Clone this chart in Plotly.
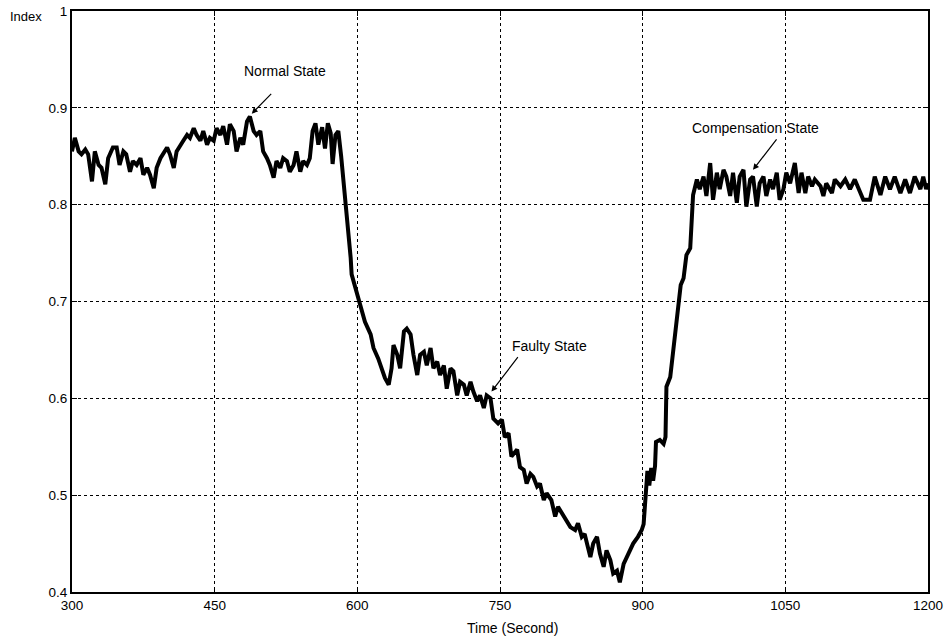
import plotly.graph_objects as go

# Performance index sampled over the run (seconds, index value)
time_s = [
    300, 303, 307, 310, 314, 317, 321, 324, 328, 331, 335, 338, 343, 347, 350, 354,
    357, 361, 364, 368, 372, 375, 379, 382, 386, 389, 393, 396, 400, 403, 407, 410,
    414, 417, 421, 424, 428, 431, 435, 438, 442, 445, 449, 452, 456, 459, 463, 466,
    470, 473, 477, 480, 484, 487, 491, 494, 498, 501, 505, 508, 512, 515, 519, 522,
    526, 529, 533, 536, 540, 543, 547, 550, 553, 556, 559, 563, 566, 569, 572, 574,
    577, 580, 583,
    586, 589, 591, 593, 594, 598, 601, 605, 608, 614, 617, 622, 626, 629, 633, 636,
    638, 642, 645, 649, 652, 656, 659, 663, 666, 670, 673, 677, 680, 684, 687, 691,
    694, 698, 701, 705, 708, 712, 715, 719, 722, 726, 729, 733, 736, 740, 743, 747,
    748, 752, 755, 759, 762, 768, 771, 775, 778, 782, 785, 789, 792, 796, 799, 804,
    808, 811, 817, 820, 824, 829, 832, 836, 839, 845, 848, 852, 855, 859, 862, 866,
    869, 873, 876, 880, 885, 890, 895, 899,
    901, 903, 905, 907, 909, 911, 913, 914, 918, 922, 924, 925, 929, 932, 936, 939,
    940, 943, 946, 950, 952, 953,
    957, 960, 964, 967, 971, 974, 978, 981, 985, 988, 992, 995, 999, 1002, 1006, 1009,
    1013, 1016, 1020, 1023, 1027, 1030, 1034, 1037, 1041, 1044, 1048, 1051, 1055, 1060,
    1064, 1067, 1071, 1074, 1078, 1081, 1087, 1090, 1093, 1099, 1102, 1108, 1113, 1118,
    1123, 1129, 1132, 1139, 1144, 1150, 1155, 1160, 1165, 1171, 1176, 1181, 1186, 1192,
    1195, 1198, 1200,
]
index_val = [
    0.855, 0.869, 0.855, 0.852, 0.857, 0.852, 0.824, 0.855, 0.841, 0.838, 0.821, 0.848,
    0.859, 0.859, 0.841, 0.855, 0.852, 0.834, 0.845, 0.841, 0.848, 0.831, 0.838, 0.831,
    0.817, 0.838, 0.848, 0.852, 0.859, 0.852, 0.838, 0.855, 0.862, 0.866, 0.872, 0.869,
    0.879, 0.872, 0.866, 0.876, 0.862, 0.869, 0.866, 0.879, 0.872, 0.881, 0.862, 0.883,
    0.876, 0.855, 0.869, 0.862, 0.886, 0.891, 0.876, 0.872, 0.876, 0.855, 0.848, 0.841,
    0.828, 0.845, 0.838, 0.848, 0.845, 0.834, 0.841, 0.855, 0.834, 0.845, 0.841, 0.848,
    0.876, 0.884, 0.862, 0.880, 0.858, 0.884, 0.874, 0.842, 0.872, 0.876, 0.850,
    0.821, 0.786, 0.769, 0.745, 0.728, 0.714, 0.700, 0.686, 0.679, 0.666, 0.652, 0.641,
    0.628, 0.621, 0.614, 0.631, 0.655, 0.645, 0.631, 0.669, 0.672, 0.666, 0.645, 0.624,
    0.645, 0.648, 0.634, 0.652, 0.631, 0.638, 0.624, 0.634, 0.610, 0.631, 0.628, 0.603,
    0.617, 0.614, 0.603, 0.617, 0.607, 0.597, 0.603, 0.590, 0.603, 0.600, 0.579, 0.576,
    0.574, 0.578, 0.560, 0.564, 0.540, 0.547, 0.529, 0.526, 0.512, 0.522, 0.519, 0.509,
    0.512, 0.495, 0.502, 0.495, 0.478, 0.488, 0.478, 0.474, 0.467, 0.464, 0.471, 0.457,
    0.460, 0.436, 0.450, 0.457, 0.440, 0.426, 0.443, 0.433, 0.419, 0.422, 0.410, 0.429,
    0.440, 0.450, 0.457, 0.464,
    0.470, 0.500, 0.525, 0.510, 0.528, 0.515, 0.530, 0.555, 0.557, 0.553, 0.560, 0.612,
    0.622, 0.648, 0.683, 0.700, 0.717, 0.724, 0.748, 0.755, 0.786, 0.810,
    0.826, 0.816, 0.829, 0.809, 0.843, 0.805, 0.833, 0.816, 0.836, 0.829, 0.809, 0.833,
    0.802, 0.829, 0.836, 0.798, 0.826, 0.829, 0.798, 0.822, 0.829, 0.809, 0.826, 0.816,
    0.833, 0.805, 0.816, 0.833, 0.822, 0.843, 0.812, 0.833, 0.812, 0.829, 0.819, 0.826,
    0.819, 0.809, 0.822, 0.812, 0.826, 0.819, 0.826, 0.816, 0.826, 0.812, 0.805, 0.805,
    0.829, 0.810, 0.829, 0.816, 0.829, 0.812, 0.826, 0.812, 0.829, 0.816, 0.829, 0.816,
    0.822,
]

x_ticks = [300, 450, 600, 750, 900, 1050, 1200]
y_ticks = [0.4, 0.5, 0.6, 0.7, 0.8, 0.9, 1.0]
y_tick_text = ["0.4", "0.5", "0.6", "0.7", "0.8", "0.9", "1"]

FONT = "Liberation Sans, Arial, sans-serif"

fig = go.Figure()
fig.add_trace(go.Scatter(
    x=time_s, y=index_val, mode="lines",
    line=dict(color="black", width=4),
    showlegend=False, hoverinfo="skip",
))

axis_common = dict(
    showline=True, linecolor="black", linewidth=2, mirror="ticks",
    ticks="inside", ticklen=5, tickcolor="black", tickwidth=1,
    showgrid=True, gridcolor="black", gridwidth=1, griddash="dot",
    zeroline=False, automargin=False,
    tickfont=dict(family=FONT, size=13.5, color="black"),
)

fig.update_xaxes(range=[300, 1200], tickvals=x_ticks, **axis_common)
fig.update_yaxes(range=[0.4, 1.0], tickvals=y_ticks, ticktext=y_tick_text, **axis_common)

# State labels with pointer arrows
states = [
    ("Normal State", 524, 0.938, 511, 0.916, 489, 0.894),
    ("Faulty State", 802, 0.654, 770, 0.644, 741, 0.607),
    ("Compensation State", 1019, 0.879, 1042, 0.869, 1016, 0.836),
]
for label, tx, ty, ax_, ay_, hx, hy in states:
    fig.add_annotation(x=tx, y=ty, text=label, showarrow=False,
                       font=dict(family=FONT, size=14, color="black"))
    fig.add_annotation(x=hx, y=hy, ax=ax_, ay=ay_, axref="x", ayref="y",
                       text="", showarrow=True, arrowhead=2, arrowsize=1,
                       arrowwidth=1.2, arrowcolor="black")

fig.add_annotation(x=0, y=1, xref="paper", yref="paper", xshift=-64, yshift=-5,
                   text="Index", showarrow=False, xanchor="left", yanchor="middle",
                   font=dict(family=FONT, size=13, color="black"))
fig.add_annotation(x=0.515, y=0, xref="paper", yref="paper", yshift=-36,
                   text="Time (Second)", showarrow=False, yanchor="middle",
                   font=dict(family=FONT, size=14, color="black"))

fig.update_layout(
    width=950, height=642,
    margin=dict(l=72, r=22, t=11, b=50),
    paper_bgcolor="white", plot_bgcolor="white",
)

fig.write_html("out.html")
